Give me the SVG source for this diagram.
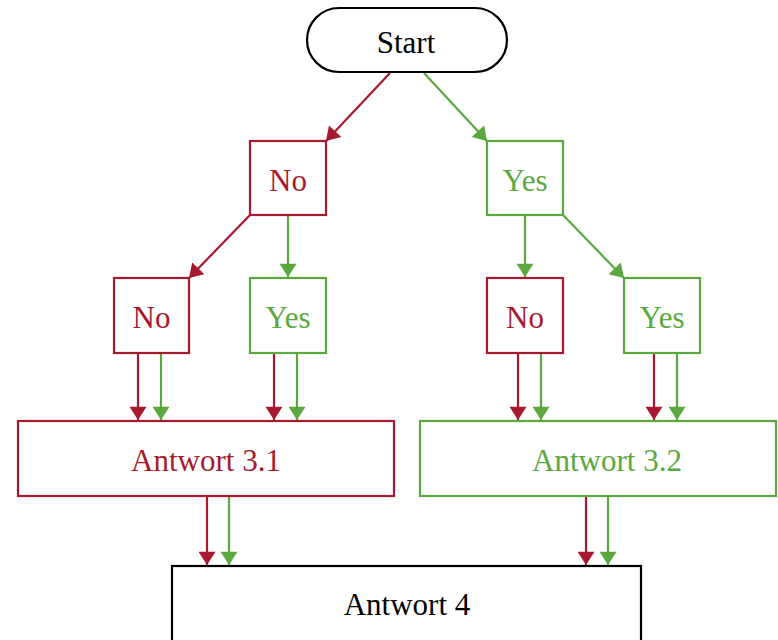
<svg xmlns="http://www.w3.org/2000/svg" width="778" height="640" viewBox="0 0 778 640">
<style>
.t{font-family:"Liberation Serif","DejaVu Serif",serif;font-size:31px;text-anchor:middle}
.box{fill:#fff;stroke-width:2.2}
.r{stroke:#A6192E}
.g{stroke:#5BA83E}
.k{stroke:#000}
.tr{fill:#A6192E}
.tg{fill:#5BA83E}
.tk{fill:#000}
.c{fill:none;stroke-width:2.2}
.cr{stroke:#A6192E;marker-end:url(#ar)}
.cg{stroke:#5BA83E;marker-end:url(#ag)}
</style>
<defs>
<marker id="ar" markerUnits="userSpaceOnUse" markerWidth="17" markerHeight="17" viewBox="0 0 12 14" refX="11" refY="7" orient="auto"><path d="M0,0 L11,7 L0,14 Z" fill="#A6192E"/></marker>
<marker id="ag" markerUnits="userSpaceOnUse" markerWidth="17" markerHeight="17" viewBox="0 0 12 14" refX="11" refY="7" orient="auto"><path d="M0,0 L11,7 L0,14 Z" fill="#5BA83E"/></marker>
</defs>
<g id="connectors">
<path class="c cr" d="M390,73 L326,141"/>
<path class="c cg" d="M424,73 L487,141"/>
<path class="c cr" d="M250,215 L189,278"/>
<path class="c cg" d="M288,215 L288,277"/>
<path class="c cg" d="M525,215 L525,277"/>
<path class="c cg" d="M563,215 L624,278"/>
<path class="c cr" d="M138,354 L138,420"/>
<path class="c cg" d="M161,354 L161,420"/>
<path class="c cr" d="M274,354 L274,420"/>
<path class="c cg" d="M297,354 L297,420"/>
<path class="c cr" d="M518,354 L518,420"/>
<path class="c cg" d="M541,354 L541,420"/>
<path class="c cr" d="M654,354 L654,420"/>
<path class="c cg" d="M677,354 L677,420"/>
<path class="c cr" d="M207,497 L207,565"/>
<path class="c cg" d="M229,497 L229,565"/>
<path class="c cr" d="M586,497 L586,565"/>
<path class="c cg" d="M608,497 L608,565"/>
</g>
<g id="start"><rect class="box k" x="307" y="8" width="200" height="64" rx="32"/><text class="t tk" x="406" y="53">Start</text></g>
<g id="no1"><rect class="box r" x="250" y="141" width="76" height="74"/><text class="t tr" x="288" y="191">No</text></g>
<g id="yes1"><rect class="box g" x="487" y="141" width="76" height="74"/><text class="t tg" x="525" y="191">Yes</text></g>
<g id="no2a"><rect class="box r" x="114" y="278" width="75" height="75"/><text class="t tr" x="151.5" y="328">No</text></g>
<g id="yes2a"><rect class="box g" x="250" y="278" width="76" height="75"/><text class="t tg" x="288" y="328">Yes</text></g>
<g id="no2b"><rect class="box r" x="487" y="278" width="76" height="75"/><text class="t tr" x="525" y="328">No</text></g>
<g id="yes2b"><rect class="box g" x="624" y="278" width="76" height="75"/><text class="t tg" x="662" y="328">Yes</text></g>
<g id="a31"><rect class="box r" x="18" y="421" width="376" height="75"/><text class="t tr" x="206" y="471">Antwort 3.1</text></g>
<g id="a32"><rect class="box g" x="420" y="421" width="356" height="75"/><text class="t tg" x="607" y="471">Antwort 3.2</text></g>
<g id="a4"><rect class="box k" x="172" y="566" width="469" height="90"/><text class="t tk" x="407" y="615">Antwort 4</text></g>
</svg>
